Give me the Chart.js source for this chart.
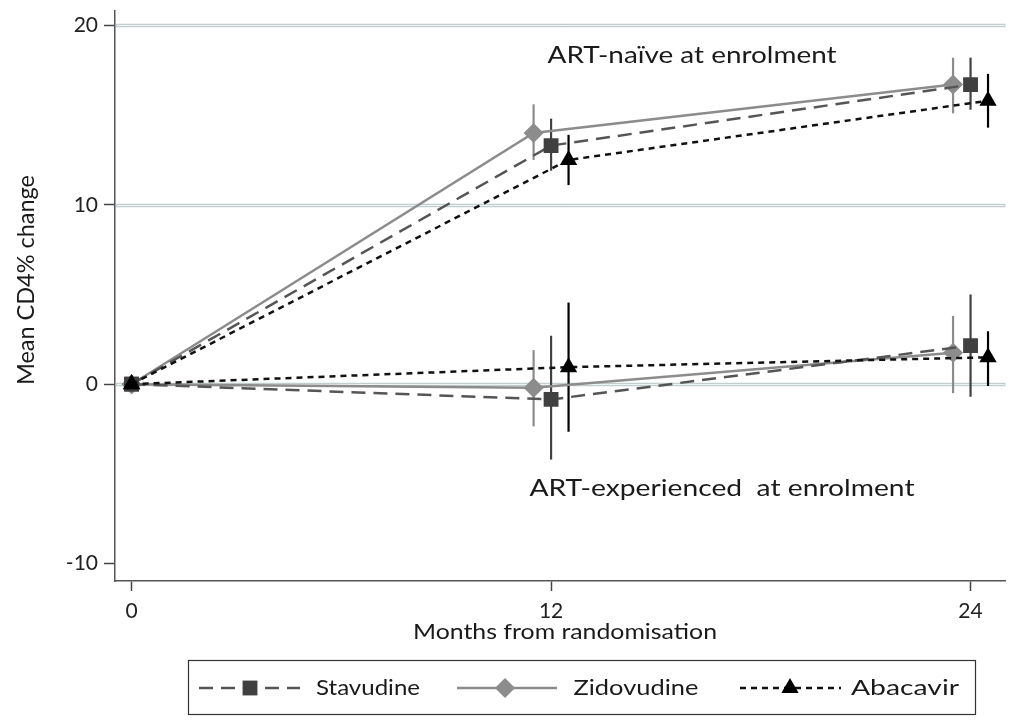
<!DOCTYPE html>
<html><head><meta charset="utf-8">
<script src="https://cdn.jsdelivr.net/npm/chart.js@4/dist/chart.umd.min.js"></script>
<style>html,body{margin:0;padding:0;background:#fff;}#wrap{width:1016px;height:720px;position:relative}</style>
</head><body><div id="wrap"><canvas id="c" width="1016" height="720"></canvas></div>
<script>
// ---- data ----
const xTickMonths = [0, 12, 24];
const yTickValues = [-10, 0, 10, 20];
const gridValues = [0, 10, 20];
const seriesNames = ['Stavudine', 'Zidovudine', 'Abacavir'];
const groupLabels = ['ART-naïve at enrolment', 'ART-experienced  at enrolment'];
const xTitle = 'Months from randomisation';
const yTitle = 'Mean CD4% change';

// x positions (months, slightly dodged as in the figure)
const stavX = [0, 12, 24];
const zidoX = [0, 11.5, 23.5];
const abacX = [0, 12.5, 24.5];

// ART-naive
const stavNaive   = [0, 13.3, 16.7];
const stavNaiveLo = [0, 11.9, 15.3];
const stavNaiveHi = [0, 14.8, 18.2];
const zidoNaive   = [0, 14.0, 16.7];
const zidoNaiveLo = [0, 12.5, 15.1];
const zidoNaiveHi = [0, 15.6, 18.2];
const abacNaive   = [0, 12.5, 15.8];
const abacNaiveLo = [0, 11.1, 14.3];
const abacNaiveHi = [0, 13.9, 17.3];

// ART-experienced
const stavExp   = [0, -0.85, 2.15];
const stavExpLo = [0, -4.2, -0.7];
const stavExpHi = [0, 2.7, 5.0];
const zidoExp   = [0, -0.2, 1.75];
const zidoExpLo = [0, -2.35, -0.5];
const zidoExpHi = [0, 1.9, 3.8];
const abacExp   = [0, 0.95, 1.5];
const abacExpLo = [0, -2.65, -0.1];
const abacExpHi = [0, 4.55, 2.95];

// ---- styles ----
const styles = {
  Stavudine:  {line:'#555555', mark:'#404040', dash:[14,8], pointStyle:'rect', radius:10.5, order:1},
  Zidovudine: {line:'#8c8c8c', mark:'#8c8c8c', dash:[], pointStyle:'rectRot', radius:10, order:2},
  Abacavir:   {line:'#111111', mark:'#000000', dash:[6,5], pointStyle:'triangle', radius:10, order:0}
};
const FONT = 'Lato';

function mk(name, xs, ys, lo, hi) {
  const s = styles[name];
  return {
    label: name,
    data: xs.map((x, i) => ({x: x, y: ys[i]})),
    errLo: lo, errHi: hi,
    borderColor: s.line, borderWidth: 2.5, borderDash: s.dash,
    pointStyle: s.pointStyle, pointRadius: s.radius, pointHoverRadius: s.radius,
    pointBackgroundColor: s.mark, pointBorderColor: s.mark, pointBorderWidth: 0,
    fill: false, tension: 0, order: s.order, errColor: s.mark
  };
}

const datasets = [
  mk('Stavudine', stavX, stavNaive, stavNaiveLo, stavNaiveHi),
  mk('Zidovudine', zidoX, zidoNaive, zidoNaiveLo, zidoNaiveHi),
  mk('Abacavir', abacX, abacNaive, abacNaiveLo, abacNaiveHi),
  mk('Stavudine', stavX, stavExp, stavExpLo, stavExpHi),
  mk('Zidovudine', zidoX, zidoExp, zidoExpLo, zidoExpHi),
  mk('Abacavir', abacX, abacExp, abacExpLo, abacExpHi)
];

function fitText(ctx, text, cx, cy, size, targetW, color, rot) {
  ctx.save();
  ctx.font = size + 'px ' + FONT;
  ctx.fillStyle = color || '#222';
  ctx.textAlign = 'center';
  ctx.textBaseline = 'middle';
  const w = ctx.measureText(text).width;
  ctx.translate(cx, cy);
  if (rot) ctx.rotate(rot);
  ctx.scale(targetW / w, 1);
  ctx.fillText(text, 0, 0);
  ctx.restore();
}

const decor = {
  id: 'decor',
  beforeDatasetsDraw(chart) {
    const ctx = chart.ctx, a = chart.chartArea;
    const ys = chart.scales.y, xs = chart.scales.x;
    // gridlines
    gridValues.forEach(v => {
      const py = Math.round(ys.getPixelForValue(v)) + 0.5;
      ctx.save();
      ctx.strokeStyle = '#c3cfcf'; ctx.lineWidth = 3.5;
      ctx.beginPath(); ctx.moveTo(a.left + 1, py); ctx.lineTo(a.right, py); ctx.stroke();
      ctx.strokeStyle = '#eef3f3'; ctx.lineWidth = 1;
      ctx.beginPath(); ctx.moveTo(a.left + 2, py); ctx.lineTo(a.right - 1, py); ctx.stroke();
      ctx.restore();
    });
    // error bars
    chart.data.datasets.forEach(ds => {
      ds.data.forEach((p, i) => {
        if (ds.errLo[i] === ds.errHi[i]) return;
        const px = xs.getPixelForValue(p.x);
        ctx.save();
        ctx.strokeStyle = ds.errColor; ctx.lineWidth = 2.2;
        ctx.beginPath();
        ctx.moveTo(px, ys.getPixelForValue(ds.errLo[i]));
        ctx.lineTo(px, ys.getPixelForValue(ds.errHi[i]));
        ctx.stroke();
        ctx.restore();
      });
    });
  },
  afterDraw(chart) {
    const ctx = chart.ctx;
    // annotations
    fitText(ctx, groupLabels[0], 692, 55, 24, 289, '#1a1a1a');
    fitText(ctx, groupLabels[1], 722, 488, 24, 385, '#1a1a1a');
    // axis titles
    fitText(ctx, yTitle, 27, 280, 23, 210, '#1a1a1a', -Math.PI / 2);
    fitText(ctx, xTitle, 565, 632, 22, 304, '#1a1a1a');
    // legend box
    ctx.save();
    ctx.strokeStyle = '#333'; ctx.lineWidth = 1.2;
    ctx.strokeRect(188.5, 660.5, 787, 54);
    ctx.restore();
    const cy = 688;
    const items = [
      {name: seriesNames[0], x0: 199, x1: 300, mx: 250, tx: 368, tw: 104},
      {name: seriesNames[1], x0: 457, x1: 557, mx: 505, tx: 636, tw: 125},
      {name: seriesNames[2], x0: 740, x1: 841, mx: 790, tx: 905, tw: 108}
    ];
    items.forEach(it => {
      const s = styles[it.name];
      ctx.save();
      ctx.strokeStyle = s.line; ctx.lineWidth = 2.5; ctx.setLineDash(s.dash);
      ctx.beginPath(); ctx.moveTo(it.x0, cy); ctx.lineTo(it.x1, cy); ctx.stroke();
      ctx.setLineDash([]);
      ctx.fillStyle = s.mark; ctx.strokeStyle = s.mark;
      Chart.helpers.drawPoint(ctx, {pointStyle: s.pointStyle, radius: s.radius, rotation: 0, borderWidth: 0}, it.mx, cy);
      ctx.restore();
      fitText(ctx, it.name, it.tx, cy, 22, it.tw, '#1a1a1a');
    });
  }
};

new Chart(document.getElementById('c'), {
  type: 'line',
  data: {datasets: datasets},
  options: {
    responsive: false, animation: false, devicePixelRatio: 1,
    layout: {padding: {left: 0, right: 7, top: 9, bottom: 0}},
    plugins: {legend: {display: false}, tooltip: {enabled: false}},
    scales: {
      x: {
        type: 'linear', min: -0.475, max: 25,
        afterBuildTicks: s => { s.ticks = xTickMonths.map(v => ({value: v})); },
        afterFit: s => { s.height = 139; s.paddingLeft = 0; s.paddingRight = 0; },
        grid: {drawOnChartArea: false, drawTicks: true, tickLength: 10, tickColor: '#444', tickWidth: 1.5},
        border: {color: '#555', width: 1.5},
        ticks: {font: {family: FONT, size: 21}, color: '#222', padding: 8, maxRotation: 0, autoSkip: false}
      },
      y: {
        type: 'linear', min: -10.97, max: 20.83,
        afterBuildTicks: s => { s.ticks = yTickValues.map(v => ({value: v})); },
        afterFit: s => { s.width = 115; s.paddingTop = 0; s.paddingBottom = 0; },
        grid: {drawOnChartArea: false, drawTicks: true, tickLength: 11, tickColor: '#444', tickWidth: 1.5},
        border: {color: '#555', width: 1.5},
        ticks: {font: {family: FONT, size: 21}, color: '#222', padding: 6, autoSkip: false}
      }
    }
  },
  plugins: [decor]
});
</script></body></html>
